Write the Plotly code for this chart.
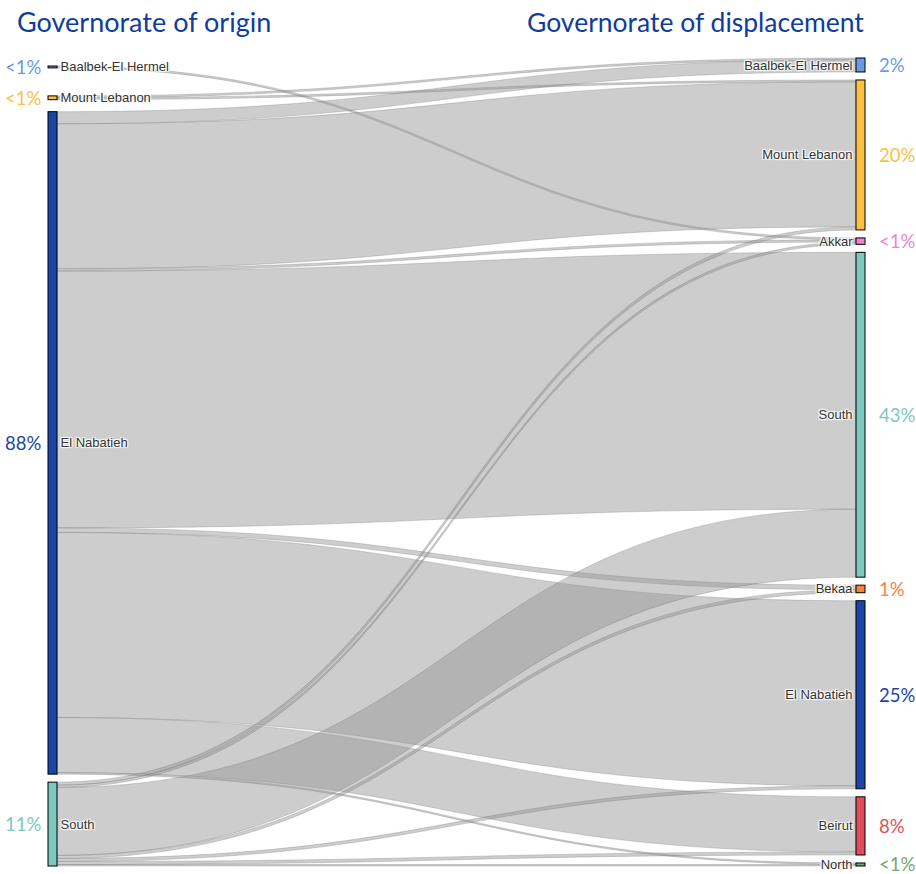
import plotly.graph_objects as go

# ---------------- data ----------------
origin_names = ["Baalbek-El Hermel", "Mount Lebanon", "El Nabatieh", "South"]
origin_pct_labels = ["<1%", "<1%", "88%", "11%"]

dest_names = ["Baalbek-El Hermel", "Mount Lebanon", "Akkar", "South",
              "Bekaa", "El Nabatieh", "Beirut", "North"]
dest_pct_labels = ["2%", "20%", "<1%", "43%", "1%", "25%", "8%", "<1%"]

# flows (percent of displaced population)
flow_origin = ["Baalbek-El Hermel", "Mount Lebanon", "Mount Lebanon",
               "El Nabatieh", "El Nabatieh", "El Nabatieh", "El Nabatieh",
               "El Nabatieh", "El Nabatieh", "El Nabatieh", "El Nabatieh",
               "South", "South", "South", "South", "South", "South", "South"]
flow_dest = ["Akkar", "Baalbek-El Hermel", "Mount Lebanon",
             "Baalbek-El Hermel", "Mount Lebanon", "Akkar", "South",
             "Bekaa", "El Nabatieh", "Beirut", "North",
             "Mount Lebanon", "Akkar", "South", "Bekaa", "El Nabatieh", "Beirut", "North"]
flow_value = [0.25, 0.25, 0.25,
              1.6, 19.2, 0.3, 34.0,
              0.6, 24.5, 7.3, 0.2,
              0.4, 0.3, 9.0, 0.4, 0.4, 0.4, 0.2]

gov_colors = {
    "Baalbek-El Hermel": "#6A9AE2",
    "Mount Lebanon": "#FDC043",
    "El Nabatieh": "#1B45A6",
    "South": "#7DC9C0",
    "Akkar": "#EE84CF",
    "Bekaa": "#F7823F",
    "Beirut": "#DE4F5B",
    "North": "#73AA6B",
}
gov_edge = {
    "Baalbek-El Hermel": "#4F7FC6",
    "Mount Lebanon": "#E0A735",
    "El Nabatieh": "#163B92",
    "South": "#5EAEA4",
    "Akkar": "#CC6AAF",
    "Bekaa": "#D66B31",
    "Beirut": "#BE4450",
    "North": "#5C9255",
}

# ---------------- layout geometry (pixels) ----------------
W, H = 916, 874
ML, MR, MT, MB = 48, 51, 58, 8
plot_w = W - ML - MR
plot_h = H - MT - MB
thick = 9
pad = 8

n_left = len(origin_names)
labels = origin_names + dest_names
src = [origin_names.index(o) for o in flow_origin]
tgt = [n_left + dest_names.index(d) for d in flow_dest]

left_tot = [sum(v for o, v in zip(flow_origin, flow_value) if o == n) for n in origin_names]
right_tot = [sum(v for d, v in zip(flow_dest, flow_value) if d == n) for n in dest_names]

ky = min((plot_h - (len(right_tot) - 1) * pad) / sum(right_tot),
         (plot_h - (len(left_tot) - 1) * pad) / sum(left_tot))


def stack(tots, gaps, start=0.0):
    centers = []
    y = start
    for i, t in enumerate(tots):
        h = t * ky
        centers.append(y + h / 2)
        y += h + (gaps[i] if i < len(gaps) else 0)
    return centers


right_c = stack(right_tot, [pad] * (len(right_tot) - 1))
left_c = stack(left_tot, [28, 12, 8], start=8)

node_x = [thick / 2 / plot_w] * n_left + [1 - thick / 2 / plot_w] * len(dest_names)
node_y = [max(c / plot_h, 0.0005) for c in left_c + right_c]

fig = go.Figure(go.Sankey(
    arrangement="fixed",
    node=dict(
        label=labels,
        x=node_x,
        y=node_y,
        pad=pad,
        thickness=thick,
        color=[gov_colors[n] for n in labels],
        line=dict(color=[gov_edge[n] for n in labels], width=1),
    ),
    link=dict(
        source=src,
        target=tgt,
        value=flow_value,
        color="rgba(150,150,150,0.48)",
        line=dict(color="rgba(90,90,90,0.3)", width=0.8),
    ),
    textfont=dict(family="Liberation Sans, Arial", size=13, color="#333333"),
))

annotations = []
for name, lab, c in zip(origin_names, origin_pct_labels, left_c):
    annotations.append(dict(
        text=lab, xref="paper", yref="paper",
        x=-5 / plot_w, y=1 - c / plot_h, xanchor="right", yanchor="middle",
        showarrow=False, font=dict(family="Lato", size=18.5, color=gov_colors[name])))
for name, lab, c in zip(dest_names, dest_pct_labels, right_c):
    annotations.append(dict(
        text=lab, xref="paper", yref="paper",
        x=1 + 12 / plot_w, y=1 - c / plot_h, xanchor="left", yanchor="middle",
        showarrow=False, font=dict(family="Lato", size=18.5, color=gov_colors[name])))

title_color = "#0F3C9E"
annotations.append(dict(
    text="Governorate of origin", xref="paper", yref="paper",
    x=(15 - ML) / plot_w, y=1 + (MT - 22) / plot_h, xanchor="left", yanchor="middle",
    showarrow=False, font=dict(family="Lato", size=27, color=title_color)))
annotations.append(dict(
    text="Governorate of displacement", xref="paper", yref="paper",
    x=(866 - ML) / plot_w, y=1 + (MT - 22) / plot_h, xanchor="right", yanchor="middle",
    showarrow=False, font=dict(family="Lato", size=26.5, color=title_color)))

fig.update_layout(
    width=W, height=H,
    margin=dict(l=ML, r=MR, t=MT, b=MB),
    paper_bgcolor="white",
    plot_bgcolor="white",
    annotations=annotations,
)

fig.write_html("out.html",
               config={"displayModeBar": False},
               post_script="document.body.style.margin='0px';document.body.style.overflow='hidden';")
